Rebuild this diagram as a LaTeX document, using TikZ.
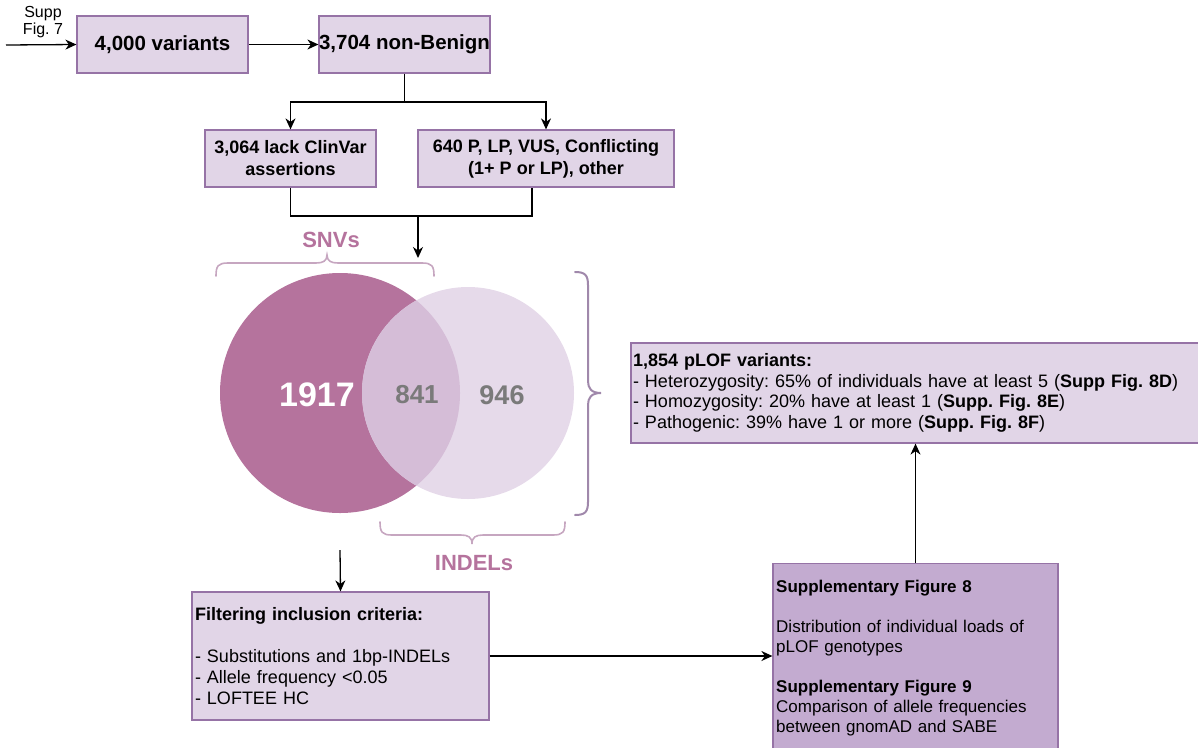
\documentclass[tikz,border=0pt]{standalone}
\usepackage{fontspec}
\setmainfont{Liberation Sans}
\usetikzlibrary{arrows.meta}
\definecolor{boxfill}{HTML}{E1D5E7}
\definecolor{boxline}{HTML}{9673A6}
\definecolor{suppfill}{HTML}{C3ABD0}
\definecolor{venndark}{HTML}{B5739D}
\definecolor{vennlight}{HTML}{E6DAEA}
\definecolor{vennlens}{HTML}{D5BDD7}
\definecolor{bracea}{HTML}{C6A6C0}
\definecolor{braceb}{HTML}{A088AB}
\definecolor{labelc}{HTML}{B5739D}
\definecolor{numgray}{HTML}{7A7A7A}
\frenchspacing
\begin{document}
\begin{tikzpicture}[x=1pt,y=-1pt,
  box/.style={draw=boxline, fill=boxfill, line width=1.2pt, inner sep=0pt, align=center},
  arr/.style={-{Stealth[length=11pt,width=10pt,inset=3.5pt]}, line width=1.3pt},
  ln/.style={line width=1.3pt},
  bigbold/.style={font=\fontsize{20.5}{24}\selectfont\bfseries},
  midbold/.style={font=\fontsize{18}{22}\selectfont\bfseries},
  bracestyle/.style={line width=1.6pt, line cap=round},
  lbl/.style={inner sep=0pt, text=labelc, font=\fontsize{22}{26}\selectfont\bfseries}]
\clip (0,0) rectangle (1198,747);

% top row
\node[box, bigbold, minimum width=171pt, minimum height=57pt] (b4000) at (162.5,44.5) {4,000 variants};
\node[box, bigbold, minimum width=171pt, minimum height=57pt] (b3704) at (404.5,44.5) {3,704 non-Benign};
\node[inner sep=0pt, align=center, font=\fontsize{16}{17}\selectfont] (supplbl) at (43,22) {Supp\\Fig. 7};
\coordinate (in) at (6,45);
\draw[arr] (in) -- (b4000.west);
\draw[arr] (b4000.east) -- (b3704.west);

% second row
\node[box, midbold, minimum width=171pt, minimum height=57pt] (b3064) at (290.5,158.5) {3,064 lack ClinVar\\assertions};
\node[box, midbold, minimum width=256pt, minimum height=57pt] (b640) at (546,158.5) {640 P, LP, VUS, Conflicting\\(1+ P or LP), other};
\coordinate (split) at (404.5,102);
\draw[ln] (b3704.south) -- (split);
\draw[arr] (split) -| (b3064.north);
\draw[arr] (split) -| (b640.north);

\coordinate (jr) at (532,216);
\coordinate (j) at (418,216);
\coordinate (jd) at (418,258);
\draw[ln] (b3064.south) |- (jr) -- (b640.south -| jr);
\draw[arr] (j) -- (jd);

% Venn
\fill[venndark] (340,393) circle[radius=120pt];
\fill[vennlight] (468,393) circle[radius=106pt];
\begin{scope}
  \clip (340,393) circle[radius=120pt];
  \fill[vennlens] (468,393) circle[radius=106pt];
\end{scope}
\node[inner sep=0pt, text=white, font=\fontsize{34}{40}\selectfont\bfseries] (n1917) at (317,395) {1917};
\node[inner sep=0pt, text=numgray, font=\fontsize{26}{30}\selectfont\bfseries] (n841) at (417,395) {841};
\node[inner sep=0pt, text=numgray, font=\fontsize{27}{30}\selectfont\bfseries] (n946) at (502,395) {946};

% braces
\draw[bracestyle, draw=bracea] (216,276) .. controls (216,266) and (218,263) .. (228,263) -- (316,263)
  .. controls (323,263) and (327,261) .. (327,255) .. controls (327,261) and (331,263) .. (338,263)
  -- (422,263) .. controls (432,263) and (434,266) .. (434,276);
\draw[bracestyle, draw=bracea] (380,522) .. controls (380,532) and (382,535) .. (392,535) -- (461,535)
  .. controls (468,535) and (472,537) .. (472,544) .. controls (472,537) and (476,535) .. (483,535)
  -- (553,535) .. controls (563,535) and (565,532) .. (565,522);
\draw[bracestyle, draw=braceb, line width=2pt] (575,272) .. controls (585,272) and (588,275) .. (588,285) -- (588,381)
  .. controls (588,388) and (591,393) .. (601,393) .. controls (591,393) and (588,398) .. (588,405)
  -- (588,502) .. controls (588,512) and (585,515) .. (575,515);

\node[lbl] (snv) at (331,240) {SNVs};
\node[lbl] (indel) at (474,563) {INDELs};

% filtering box
\node[box, minimum width=297pt, minimum height=128pt, text width=291pt, align=left,
  font=\fontsize{18}{21}\selectfont] (filt) at (340.5,656)
  {\textbf{Filtering inclusion criteria:}\\[21pt]- Substitutions and 1bp-INDELs\\- Allele frequency <0.05\\- LOFTEE HC};
\coordinate (vb) at (340,550);
\draw[arr] (vb) -- (filt.north);

% supplementary box
\node[box, fill=suppfill, minimum width=285pt, minimum height=210pt, anchor=north] (supp) at (915.5,563) {};
\node[inner sep=0pt, anchor=north west, align=left, text width=280pt,
  font=\fontsize{17}{20}\selectfont] (supptxt) at (776,580)
  {\textbf{Supplementary Figure 8}\\[20pt]Distribution of individual loads of\\pLOF genotypes\\[20pt]\textbf{Supplementary Figure 9}\\Comparison of allele frequencies\\between gnomAD and SABE};
\draw[arr] (filt.east) -- (filt.east -| supp.west);

% pLOF box
\node[box, minimum width=580pt, minimum height=100pt, text width=576pt, align=left,
  font=\fontsize{18}{20.5}\selectfont] (plof) at (921,393)
  {\textbf{1,854 pLOF variants:}\\- Heterozygosity: 65\% of individuals have at least 5 (\textbf{Supp Fig. 8D})\\- Homozygosity: 20\% have at least 1 (\textbf{Supp. Fig. 8E})\\- Pathogenic: 39\% have 1 or more (\textbf{Supp. Fig. 8F})};
\draw[arr] (supp.north) -- (supp.north |- plof.south);
\end{tikzpicture}
\end{document}
